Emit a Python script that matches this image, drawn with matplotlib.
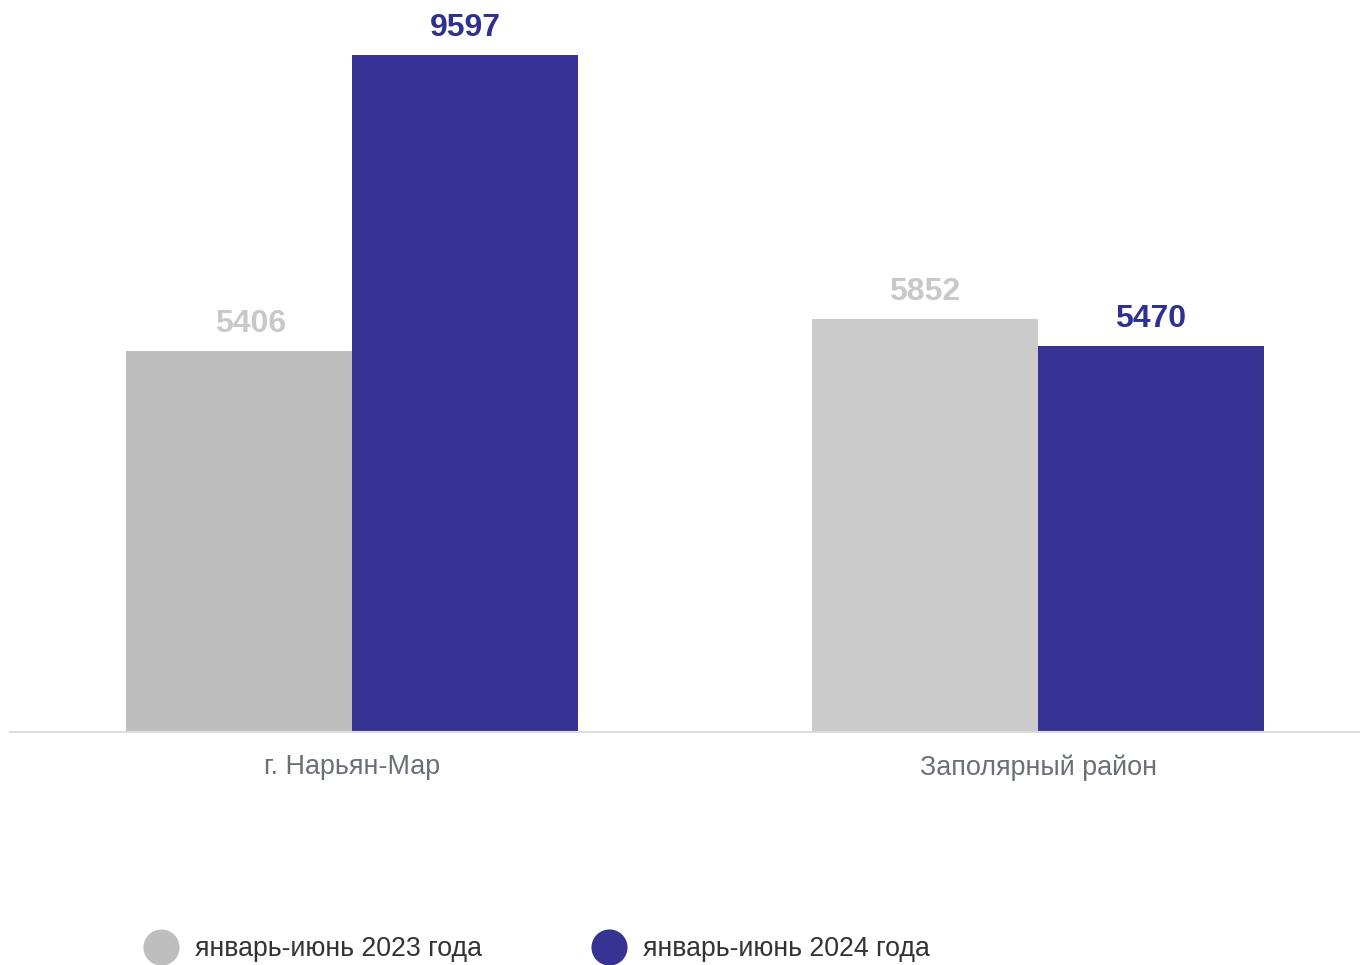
import matplotlib
matplotlib.use("Agg")
import matplotlib.pyplot as plt
from matplotlib.lines import Line2D
import numpy as np

plt.rcParams['font.family'] = ['Liberation Sans', 'DejaVu Sans']

categories = ["г. Нарьян-Мар", "Заполярный район"]
series_names = ["январь-июнь 2023 года", "январь-июнь 2024 года"]
values_2023 = [5406, 5852]
values_2024 = [9597, 5470]

gray_bars = ["#BEBEBE", "#CBCBCB"]
blue = "#373395"
gray_label = "#C8C8C8"
blue_label = "#2E3192"

W, H = 1360, 965
fig = plt.figure(figsize=(W / 100, H / 100), dpi=100)
ax = fig.add_axes([10 / W, (H - 732) / H, 1350 / W, 732 / H])

x = np.arange(len(categories))
unit = 686.0
bw = 226 / unit

b1 = ax.bar(x - bw / 2, values_2023, width=bw, color=gray_bars, linewidth=0)
b2 = ax.bar(x + bw / 2, values_2024, width=bw, color=blue, linewidth=0)

ax.set_xlim(-342 / unit, 1 + 322 / unit)
ax.set_ylim(0, 732 / (677 / 9597))

for i, (rect, v) in enumerate(zip(b1, values_2023)):
    dx = 8 if i == 0 else 0
    ax.annotate(str(v), (rect.get_x() + rect.get_width() / 2, v),
                xytext=(dx, 8.5), textcoords='offset points',
                ha='center', va='bottom', fontsize=23, fontweight='bold',
                color=gray_label)
for rect, v in zip(b2, values_2024):
    ax.annotate(str(v), (rect.get_x() + rect.get_width() / 2, v),
                xytext=(0, 8.5), textcoords='offset points',
                ha='center', va='bottom', fontsize=23, fontweight='bold',
                color=blue_label)

for s in ['top', 'right', 'left']:
    ax.spines[s].set_visible(False)
ax.spines['bottom'].set_color('#DDDDDD')
ax.spines['bottom'].set_linewidth(1.5)
ax.set_yticks([])
ax.set_xticks(x)
ax.set_xticklabels(categories, fontsize=19.4, color='#6B6F76')
ax.tick_params(axis='x', length=0, pad=16)

handles = [
    Line2D([0], [0], marker='o', linestyle='none', markersize=26,
           markerfacecolor='#BEBEBE', markeredgewidth=0),
    Line2D([0], [0], marker='o', linestyle='none', markersize=26,
           markerfacecolor=blue, markeredgewidth=0),
]
fig.legend(handles, series_names, ncol=2, loc='center left',
           bbox_to_anchor=(141 / W, 1 - 949 / H), frameon=False,
           fontsize=19.15, labelcolor='#333333', handletextpad=0.54,
           columnspacing=4.0, handlelength=1.5, borderpad=0,
           borderaxespad=0)

fig.savefig("out.png", dpi=100)
